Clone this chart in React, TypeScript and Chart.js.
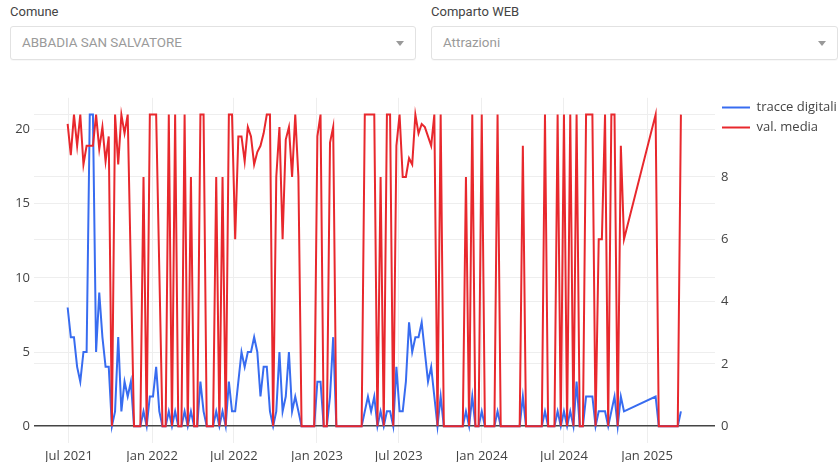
import React, { useEffect, useRef } from 'react';
import { Chart, registerables } from 'chart.js';

Chart.register(...registerables);

// Weekly dates (gap between Nov 2024 and Jan 2025 as in the source)
const DATES: string[] = [
  '2021-06-28',
  '2021-07-05', '2021-07-12', '2021-07-19', '2021-07-26',
  '2021-08-02', '2021-08-09', '2021-08-16', '2021-08-23', '2021-08-30',
  '2021-09-06', '2021-09-13', '2021-09-20', '2021-09-27',
  '2021-10-04', '2021-10-11', '2021-10-18', '2021-10-25',
  '2021-11-01', '2021-11-08', '2021-11-15', '2021-11-22', '2021-11-29',
  '2021-12-06', '2021-12-13', '2021-12-20', '2021-12-27',
  '2022-01-03', '2022-01-10', '2022-01-17', '2022-01-24', '2022-01-31',
  '2022-02-07', '2022-02-14', '2022-02-21', '2022-02-28',
  '2022-03-07', '2022-03-14', '2022-03-21', '2022-03-28',
  '2022-04-04', '2022-04-11', '2022-04-18', '2022-04-25',
  '2022-05-02', '2022-05-09', '2022-05-16', '2022-05-23', '2022-05-30',
  '2022-06-06', '2022-06-13', '2022-06-20', '2022-06-27',
  '2022-07-04', '2022-07-11', '2022-07-18', '2022-07-25',
  '2022-08-01', '2022-08-08', '2022-08-15', '2022-08-22', '2022-08-29',
  '2022-09-05', '2022-09-12', '2022-09-19', '2022-09-26',
  '2022-10-03', '2022-10-10', '2022-10-17', '2022-10-24', '2022-10-31',
  '2022-11-07', '2022-11-14', '2022-11-21', '2022-11-28',
  '2022-12-05', '2022-12-12', '2022-12-19', '2022-12-26',
  '2023-01-02', '2023-01-09', '2023-01-16', '2023-01-23', '2023-01-30',
  '2023-02-06', '2023-02-13', '2023-02-20', '2023-02-27',
  '2023-03-06', '2023-03-13', '2023-03-20', '2023-03-27',
  '2023-04-03', '2023-04-10', '2023-04-17', '2023-04-24',
  '2023-05-01', '2023-05-08', '2023-05-15', '2023-05-22', '2023-05-29',
  '2023-06-05', '2023-06-12', '2023-06-19', '2023-06-26',
  '2023-07-03', '2023-07-10', '2023-07-17', '2023-07-24', '2023-07-31',
  '2023-08-07', '2023-08-14', '2023-08-21', '2023-08-28',
  '2023-09-04', '2023-09-11', '2023-09-18', '2023-09-25',
  '2023-10-02', '2023-10-09', '2023-10-16', '2023-10-23', '2023-10-30',
  '2023-11-06', '2023-11-13', '2023-11-20', '2023-11-27',
  '2023-12-04', '2023-12-11', '2023-12-18', '2023-12-25',
  '2024-01-01', '2024-01-08', '2024-01-15', '2024-01-22', '2024-01-29',
  '2024-02-05', '2024-02-12', '2024-02-19', '2024-02-26',
  '2024-03-04', '2024-03-11', '2024-03-18', '2024-03-25',
  '2024-04-01', '2024-04-08', '2024-04-15', '2024-04-22', '2024-04-29',
  '2024-05-06', '2024-05-13', '2024-05-20', '2024-05-27',
  '2024-06-03', '2024-06-10', '2024-06-17', '2024-06-24',
  '2024-07-01', '2024-07-08', '2024-07-15', '2024-07-22', '2024-07-29',
  '2024-08-05', '2024-08-12', '2024-08-19', '2024-08-26',
  '2024-09-02', '2024-09-09', '2024-09-16', '2024-09-23', '2024-09-30',
  '2024-10-07', '2024-10-14', '2024-10-21', '2024-10-28',
  '2024-11-04', '2024-11-11',
  '2025-01-20', '2025-01-27', '2025-02-03', '2025-02-10', '2025-02-17',
  '2025-02-24', '2025-03-03', '2025-03-10', '2025-03-17',
];

const TRACCE_DIGITALI: number[] = [
  8,
  6, 6, 4, 3,
  5, 5, 21, 21, 5,
  9, 6, 4, 4,
  0, 1, 6, 1,
  3, 2, 3, 0, 0,
  0, 1, 0, 2,
  2, 4, 1, 0, 0,
  1, 0, 1, 0,
  0, 1, 0, 1,
  0, 0, 3, 1,
  0, 0, 0, 1, 0,
  1, 0, 3, 1,
  1, 3, 5, 4,
  5, 5, 6, 5, 2,
  4, 4, 1, 0,
  1, 5, 1, 2, 5,
  1, 2, 1, 0,
  0, 0, 0, 0,
  3, 3, 0, 0, 2,
  6, 0, 0, 0,
  0, 0, 0, 0,
  0, 0, 1, 2,
  1, 2, 0, 1, 0,
  1, 1, 0, 4,
  1, 1, 3, 7, 5,
  6, 6, 7, 5,
  3, 4, 2, 0,
  2, 0, 0, 0, 0,
  0, 0, 0, 1,
  0, 2, 0, 0,
  1, 0, 0, 0, 0,
  1, 0, 0, 0,
  0, 0, 0, 0,
  2, 0, 0, 0, 0,
  0, 0, 1, 0,
  0, 0, 1, 0,
  1, 0, 1, 0, 3,
  0, 0, 2, 2,
  2, 0, 1, 1, 1,
  0, 1, 2, 0,
  2, 1,
  2, 0, 0, 0, 0,
  0, 0, 0, 1,
];

const VAL_MEDIA: number[] = [
  9.7,
  8.7, 10, 9.0, 10,
  8.4, 9.0, 9.0, 9.0, 10,
  8.9, 9.6, 8.5, 9.3,
  0, 10, 8.4, 10,
  9.4, 10, 5, 0, 0,
  0, 8, 0, 10,
  10, 10, 5, 0, 0,
  10, 0, 10, 0,
  0, 10, 0, 8,
  0, 0, 10, 10,
  0, 0, 0, 8, 0,
  8, 0, 10, 10,
  6, 9.3, 9.3, 8.5,
  9.6, 9.3, 8.4, 8.8, 9.0,
  9.4, 10, 10, 0,
  8, 9.6, 6, 9.2, 9.6,
  8, 10, 8, 0,
  0, 0, 0, 0,
  9.3, 10, 0, 0, 9.1,
  9.6, 0, 0, 0,
  0, 0, 0, 0,
  0, 0, 10, 10,
  10, 10, 0, 8, 0,
  10, 10, 0, 9,
  10, 8, 8, 8.6, 8.4,
  10, 9.4, 9.7, 9.6,
  9.3, 9.0, 10, 0,
  10, 0, 0, 0, 0,
  0, 0, 0, 8,
  0, 10, 0, 0,
  10, 0, 0, 0, 0,
  10, 0, 0, 0,
  0, 0, 0, 0,
  9, 0, 0, 0, 0,
  0, 0, 10, 0,
  0, 0, 10, 0,
  10, 0, 10, 0, 10,
  0, 0, 10, 10,
  10, 0, 6, 6, 10,
  0, 10, 10, 0,
  9, 6,
  10, 0, 0, 0, 0,
  0, 0, 0, 10,
];

const X_TICK_DATES = ['2021-07-01', '2022-01-01', '2022-07-01', '2023-01-01', '2023-07-01', '2024-01-01', '2024-07-01', '2025-01-01'];
const X_TICK_LABELS = ['Jul 2021', 'Jan 2022', 'Jul 2022', 'Jan 2023', 'Jul 2023', 'Jan 2024', 'Jul 2024', 'Jan 2025'];
const LEFT_TICKS = [0, 5, 10, 15, 20];
const RIGHT_TICKS = [0, 2, 4, 6, 8, 10];
const X_RANGE = ['2021-04-14T12:00:00Z', '2025-05-31T12:00:00Z'];
const LEFT_RANGE = [-1.133, 22.133];
const RIGHT_RANGE = [-0.54, 10.54];

const SERIES_NAMES = ['tracce digitali', 'val. media'];
const BLUE = '#386CF0';
const RED = '#E8282D';
const TICK_FONT = { family: '"Open Sans", sans-serif', size: 13 };

// The right axis takes no layout width (so the legend sits right next to the
// plot, as in the source); widen only its label clip box after layout.
const rightLabelRoom = {
  id: 'rightLabelRoom',
  afterLayout(chart: any) {
    const s = chart.scales && chart.scales.y1;
    if (s) {
      s.right = s.left + 30;
      s._labelItems = null;
    }
  },
};

function ChartCanvas() {
  const ref = useRef<HTMLCanvasElement | null>(null);
  useEffect(() => {
    if (!ref.current) return;
    const xs = DATES.map((d) => Date.parse(d));
    const chart = new Chart(ref.current, {
      type: 'line',
      data: {
        datasets: [
          {
            label: SERIES_NAMES[0],
            data: xs.map((x, i) => ({ x, y: TRACCE_DIGITALI[i] })),
            borderColor: BLUE,
            backgroundColor: BLUE,
            borderWidth: 2,
            pointRadius: 0,
            tension: 0,
            yAxisID: 'y',
            order: 1,
          },
          {
            label: SERIES_NAMES[1],
            data: xs.map((x, i) => ({ x, y: VAL_MEDIA[i] })),
            borderColor: RED,
            backgroundColor: RED,
            borderWidth: 2,
            pointRadius: 0,
            tension: 0,
            yAxisID: 'y1',
            order: 0,
          },
        ],
      },
      plugins: [rightLabelRoom],
      options: {
        responsive: false,
        animation: false,
        events: [],
        layout: { padding: { top: 10, right: 1, bottom: 0, left: 0 } },
        scales: {
          x: {
            type: 'linear',
            min: Date.parse(X_RANGE[0]),
            max: Date.parse(X_RANGE[1]),
            afterBuildTicks: (s: any) => {
              s.ticks = X_TICK_DATES.map((d) => ({ value: Date.parse(d) }));
            },
            afterFit: (s: any) => {
              s.height = 19;
            },
            ticks: {
              callback: (_v: any, i: number) => X_TICK_LABELS[i],
              font: TICK_FONT,
              color: '#444',
              padding: 5,
              maxRotation: 0,
              autoSkip: false,
            },
            grid: { color: '#eeeeee', lineWidth: 1, drawTicks: false },
            border: { display: false },
          },
          y: {
            type: 'linear',
            position: 'left',
            min: LEFT_RANGE[0],
            max: LEFT_RANGE[1],
            afterBuildTicks: (s: any) => {
              s.ticks = LEFT_TICKS.map((v) => ({ value: v }));
            },
            afterFit: (s: any) => {
              s.width = 34;
            },
            ticks: { font: TICK_FONT, color: '#444', padding: 4 },
            grid: {
              drawTicks: false,
              color: (c: any) => (c.tick && c.tick.value === 0 ? '#444444' : '#eeeeee'),
              lineWidth: (c: any) => (c.tick && c.tick.value === 0 ? 1.5 : 1),
            },
            border: { display: false },
          },
          y1: {
            type: 'linear',
            position: 'right',
            min: RIGHT_RANGE[0],
            max: RIGHT_RANGE[1],
            afterBuildTicks: (s: any) => {
              s.ticks = RIGHT_TICKS.map((v) => ({ value: v }));
            },
            afterFit: (s: any) => {
              s.width = 0;
            },
            ticks: {
              font: TICK_FONT,
              color: '#444',
              padding: 6,
              callback: (v: any) => (v === 10 ? '' : String(v)),
            },
            grid: {
              drawTicks: false,
              color: (c: any) => (c.tick && c.tick.value === 0 ? 'rgba(0,0,0,0)' : '#eeeeee'),
            },
            border: { display: false },
          },
        },
        plugins: {
          tooltip: { enabled: false },
          legend: {
            display: true,
            position: 'right',
            align: 'start',
            maxWidth: 122,
            labels: {
              usePointStyle: true,
              pointStyle: 'line',
              pointStyleWidth: 28,
              padding: 7,
              color: '#444',
              font: TICK_FONT,
              sort: (a: any, b: any) => a.datasetIndex - b.datasetIndex,
            },
          },
        },
      },
    } as any);
    return () => chart.destroy();
  }, []);
  return (
    <canvas
      ref={ref}
      width={838}
      height={378}
      style={{ position: 'absolute', left: 0, top: 84, width: 838, height: 378, display: 'block' }}
    />
  );
}

function Select(props: { left: number; width: number; label: string; value: string }) {
  const { left, width, label, value } = props;
  return (
    <>
      <div
        style={{
          position: 'absolute',
          left,
          top: 4,
          fontSize: 13,
          lineHeight: '16px',
          color: '#444',
          fontFamily: 'Roboto, sans-serif',
        }}
      >
        {label}
      </div>
      <div
        style={{
          position: 'absolute',
          left,
          top: 26,
          width,
          height: 34,
          boxSizing: 'border-box',
          border: '1px solid #e2e2e2',
          borderRadius: 3,
          background: '#fff',
          boxShadow: '0 1px 1px rgba(0,0,0,0.03)',
        }}
      >
        <div
          style={{
            position: 'absolute',
            left: 11,
            top: 0,
            lineHeight: '31px',
            fontSize: 13.4,
            color: '#9a9a9a',
            fontFamily: 'Roboto, sans-serif',
            whiteSpace: 'nowrap',
          }}
        >
          {value}
        </div>
        <div
          style={{
            position: 'absolute',
            right: 11,
            top: 14,
            width: 0,
            height: 0,
            borderLeft: '4px solid transparent',
            borderRight: '4px solid transparent',
            borderTop: '5px solid #999',
          }}
        />
      </div>
    </>
  );
}

export default function App() {
  return (
    <div
      style={{
        position: 'fixed',
        left: 0,
        top: 0,
        width: 838,
        height: 462,
        background: '#fff',
        overflow: 'hidden',
      }}
    >
      <Select left={10} width={406} label="Comune" value="ABBADIA SAN SALVATORE" />
      <Select left={431} width={407} label="Comparto WEB" value="Attrazioni" />
      <ChartCanvas />
    </div>
  );
}
